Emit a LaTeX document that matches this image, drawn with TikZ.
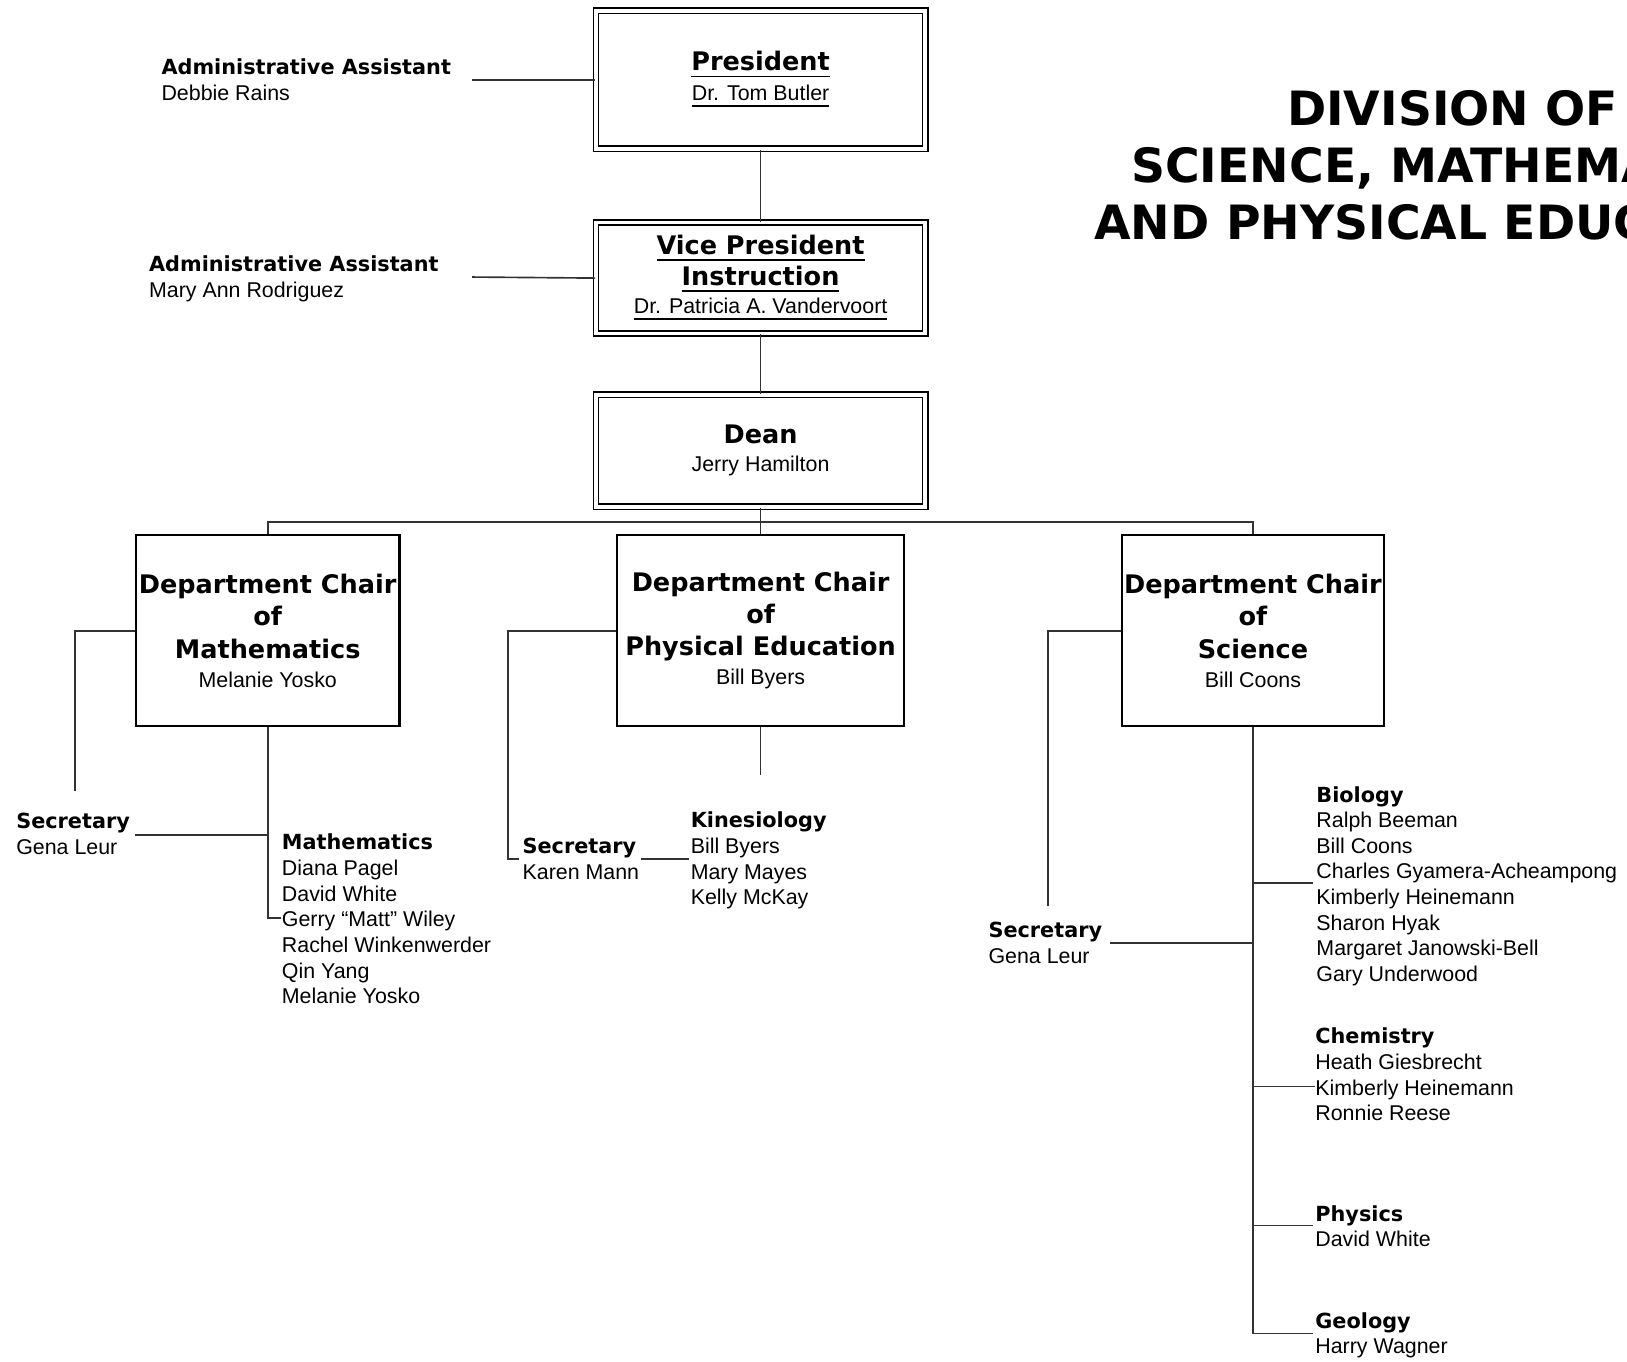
\documentclass[tikz,border=0pt]{standalone}
\usepackage{fontspec}
\setmainfont{Liberation Sans}
\newfontfamily\heavy{DejaVu Sans}
\newcommand\hd{\heavy\bfseries\fontsize{7pt}{8.8pt}\selectfont}
\newcommand\lbl{\heavy\bfseries\fontsize{5.7pt}{7.03pt}\selectfont}
\tikzset{
	link/.style={line width=0.45pt, black!80},
	topbox/.style={draw, double, double distance=1pt, line width=0.45pt, minimum width=3.17cm, align=center, inner sep=0pt, font=\fontsize{5.86pt}{8.8pt}\selectfont},
	deptbox/.style={draw, line width=0.6pt, minimum height=1.84cm, align=center, inner sep=0pt, font=\fontsize{5.86pt}{8.8pt}\selectfont},
	txt/.style={anchor=north west, align=left, inner sep=0pt, font=\fontsize{5.86pt}{7.03pt}\selectfont}
}
\begin{document}
\begin{tikzpicture}[x=0.01cm, y=-0.01cm]
		\path[use as bounding box] (0,0) rectangle (1568,1312);
		\clip (0,0) rectangle (1568,1312);

		\node[font=\heavy\bfseries\fontsize{12.95pt}{15.65pt}\selectfont, align=center] (title) at (1400,159) {DIVISION OF\\SCIENCE, MATHEMATICS\\AND PHYSICAL EDUCATION};

		\node[topbox, minimum height=1.33cm] (pres) at (733,77) {{\hd\underline{President}}\\[-0.55pt]\underline{Dr. Tom Butler}};
		\node[topbox, minimum height=1.07cm] (vp) at (733,268) {{\hd\underline{Vice President}}\\[-0.3pt]{\hd\underline{Instruction}}\\[-1.1pt]\underline{Dr. Patricia A. Vandervoort}};
		\node[topbox, minimum height=1.08cm] (dean) at (733,434.5) {{\hd Dean}\\[-1.1pt]Jerry Hamilton};

		\node[deptbox, minimum width=2.54cm] (math) at (258,608) {{\hd Department Chair}\\{\hd of}\\{\hd Mathematics}\\[-0.85pt]Melanie Yosko};
		\node[deptbox, minimum width=2.76cm] (pe) at (733,608) {{\hd Department Chair}\\{\hd of}\\{\hd Physical Education}\\[-0.85pt]Bill Byers};
		\node[deptbox, minimum width=2.53cm] (sci) at (1207.5,608) {{\hd Department Chair}\\{\hd of}\\{\hd Science}\\[-0.85pt]Bill Coons};

		% assistants and secretaries
		\node[txt] (adm1) at (155,56) {{\lbl Administrative Assistant}\\Debbie Rains};
		\node[txt] (adm2) at (143,246) {{\lbl Administrative Assistant}\\Mary Ann Rodriguez};
		\node[txt] (msec) at (15,783) {{\lbl Secretary}\\Gena Leur};
		\node[txt] (psec) at (503,807) {{\lbl Secretary}\\Karen Mann};
		\node[txt] (ssec) at (952,888) {{\lbl Secretary}\\Gena Leur};

		% faculty lists
		\node[txt] (mlist) at (271,803) {{\lbl Mathematics}\\Diana Pagel\\David White\\Gerry “Matt” Wiley\\Rachel Winkenwerder\\Qin Yang\\Melanie Yosko};
		\node[txt] (klist) at (665,782) {{\lbl Kinesiology}\\Bill Byers\\Mary Mayes\\Kelly McKay};
		\node[txt] (bio) at (1268,757) {{\lbl Biology}\\Ralph Beeman\\Bill Coons\\Charles Gyamera-Acheampong\\Kimberly Heinemann\\Sharon Hyak\\Margaret Janowski-Bell\\Gary Underwood};
		\node[txt] (chem) at (1267,990) {{\lbl Chemistry}\\Heath Giesbrecht\\Kimberly Heinemann\\Ronnie Reese};
		\node[txt] (phys) at (1267,1161) {{\lbl Physics}\\David White};
		\node[txt] (geo) at (1267,1264) {{\lbl Geology}\\Harry Wagner};

		% top of the chart
		\coordinate (a1) at (455,77);
		\coordinate (a2) at (455,267);
		\draw[link] (a1) -- (pres.west);
		\draw[link] (a2) -- (vp.west);
		\draw[link] (pres.south) -- (vp.north);
		\draw[link] (vp.south) -- (dean.north);
		\draw[link] (dean.south) -- (pe.north);
		\draw[link] (math.north) -- ++(0,-12) -| (sci.north);

		% mathematics
		\coordinate (m1) at (72,762);
		\coordinate (m2) at (130,805);
		\coordinate (m3) at (271,885);
		\draw[link] (math.west) -| (m1);
		\draw[link] (m2) -- (m2 -| math.south);
		\draw[link] (math.south) |- (m3);

		% physical education
		\coordinate (p1) at (500,828);
		\coordinate (p2) at (618,828);
		\coordinate (p3) at (664,828);
		\coordinate (p4) at (733,747);
		\draw[link] (pe.west) -- ++(-104,0) |- (p1);
		\draw[link] (p2) -- (p3);
		\draw[link] (pe.south) -- (p4);

		% science
		\coordinate (s1) at (1010,873);
		\coordinate (s2) at (1070,909);
		\coordinate (s3) at (1265,851);
		\coordinate (s4) at (1267,1047);
		\coordinate (s5) at (1265,1181);
		\coordinate (s6) at (1265,1285);
		\draw[link] (sci.west) -| (s1);
		\draw[link] (s2) -- (s2 -| sci.south);
		\draw[link] (sci.south) |- (s6);
		\foreach \c in {s3,s4,s5}
			\draw[link] (\c) -- (\c -| sci.south);
	\end{tikzpicture}
\end{document}
